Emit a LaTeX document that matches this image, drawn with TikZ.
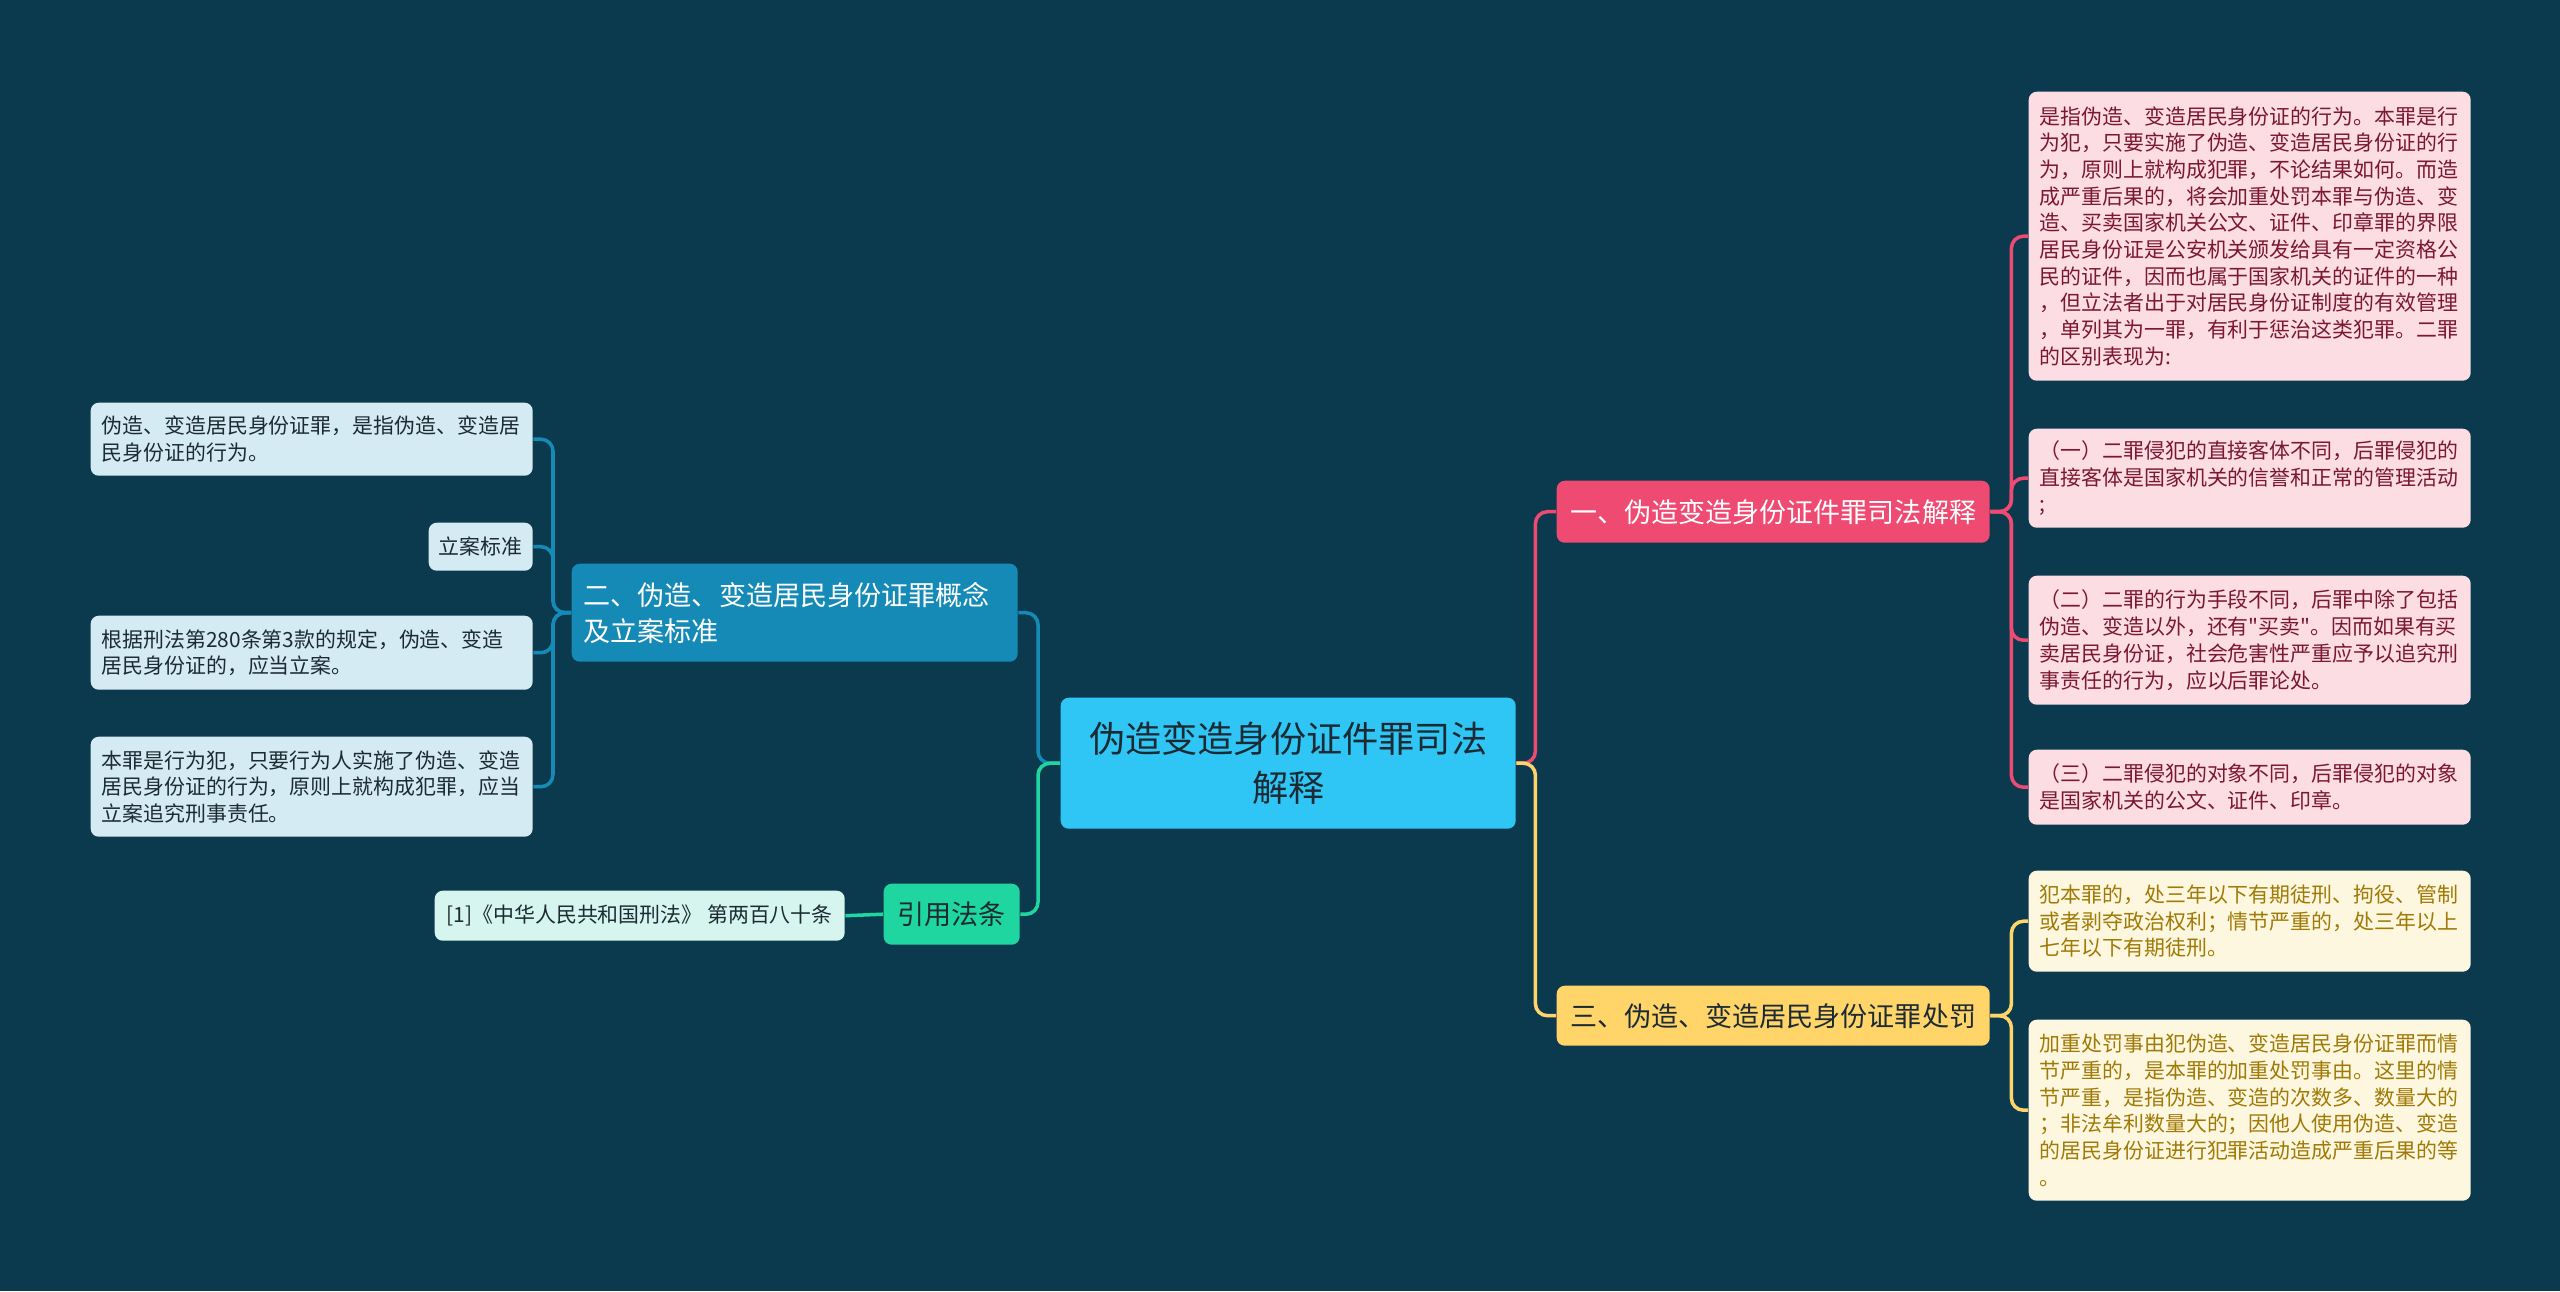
\documentclass[tikz,border=0pt]{standalone}
\usepackage{fontspec}
\setmainfont{Noto Sans CJK SC}
\newfontfamily\plainquote{Noto Sans CJK SC}
\usetikzlibrary{positioning}

\definecolor{bgcol}{HTML}{0B3A4E}
\definecolor{maincol}{HTML}{2FC6F6}
\definecolor{pinkcol}{HTML}{EE4A72}
\definecolor{yellowcol}{HTML}{FFD56A}
\definecolor{bluecol}{HTML}{168AB6}
\definecolor{greencol}{HTML}{1FD6A0}
\definecolor{pinkleaf}{HTML}{FCDDE4}
\definecolor{yellowleaf}{HTML}{FEF7E0}
\definecolor{blueleaf}{HTML}{D5EBF3}
\definecolor{greenleaf}{HTML}{D6F5EE}
\definecolor{pinktext}{HTML}{7B1731}
\definecolor{yellowtext}{HTML}{A07A06}
\definecolor{darktext}{HTML}{1C2B33}

\tikzset{
	box/.style={rectangle, rounded corners=0.8mm, anchor=north west, inner ysep=0.2mm},
	topic/.style={box, inner xsep=1.2mm, font=\fontsize{7.7}{10.2}\selectfont},
	leaf/.style={box, inner xsep=1.1mm, text width=4.2cm, align=left,
		font=\fontsize{5.95}{7.6}\selectfont},
	shortleaf/.style={box, inner xsep=1mm, font=\fontsize{5.95}{7.6}\selectfont},
	conn/.style={line width=1pt, rounded corners=1.2mm},
}

\begin{document}
\begin{tikzpicture}[x=0.1mm, y=-0.1mm]
	\path[use as bounding box, fill=bgcol] (0,0) rectangle (2560,1291);

	\node[box, fill=maincol, text=darktext, align=center,
	minimum width=4.55cm, minimum height=1.31cm,
	font=\fontsize{10.3}{13.9}\selectfont
	] (main) at (1060,697) {伪造变造身份证件罪司法\\解释};

	% right side
	\node[topic, fill=pinkcol, text=white, minimum width=4.33cm, minimum height=0.62cm]
	(s1) at (1556,480) {一、伪造变造身份证件罪司法解释};
	\node[topic, fill=yellowcol, text=darktext, minimum width=4.33cm, minimum height=0.60cm]
	(s3) at (1556,985) {三、伪造、变造居民身份证罪处罚};

	\node[leaf, fill=pinkleaf, text=pinktext, minimum height=2.89cm] (p1) at (2028,91)
	{是指伪造、变造居民身份证的行为。本罪是行\\
	为犯，只要实施了伪造、变造居民身份证的行\\
	为，原则上就构成犯罪，不论结果如何。而造\\
	成严重后果的，将会加重处罚本罪与伪造、变\\
	造、买卖国家机关公文、证件、印章罪的界限\\
	居民身份证是公安机关颁发给具有一定资格公\\
	民的证件，因而也属于国家机关的证件的一种\\
	，但立法者出于对居民身份证制度的有效管理\\
	，单列其为一罪，有利于惩治这类犯罪。二罪\\
	的区别表现为:};
	\node[leaf, fill=pinkleaf, text=pinktext, minimum height=0.99cm] (p2) at (2028,428)
	{（一）二罪侵犯的直接客体不同，后罪侵犯的\\
	直接客体是国家机关的信誉和正常的管理活动\\
	;};
	\node[leaf, fill=pinkleaf, text=pinktext, minimum height=1.29cm] (p3) at (2028,575)
	{（二）二罪的行为手段不同，后罪中除了包括\\
	伪造、变造以外，还有{\plainquote"}买卖{\plainquote"}。因而如果有买\\
	卖居民身份证，社会危害性严重应予以追究刑\\
	事责任的行为，应以后罪论处。};
	\node[leaf, fill=pinkleaf, text=pinktext, minimum height=0.75cm] (p4) at (2028,749)
	{（三）二罪侵犯的对象不同，后罪侵犯的对象\\
	是国家机关的公文、证件、印章。};

	\node[leaf, fill=yellowleaf, text=yellowtext, minimum height=1.01cm] (y1) at (2028,870)
	{犯本罪的，处三年以下有期徒刑、拘役、管制\\
	或者剥夺政治权利；情节严重的，处三年以上\\
	七年以下有期徒刑。};
	\node[leaf, fill=yellowleaf, text=yellowtext, minimum height=1.81cm] (y2) at (2028,1019)
	{加重处罚事由犯伪造、变造居民身份证罪而情\\
	节严重的，是本罪的加重处罚事由。这里的情\\
	节严重，是指伪造、变造的次数多、数量大的\\
	；非法牟利数量大的；因他人使用伪造、变造\\
	的居民身份证进行犯罪活动造成严重后果的等\\
	。};

	% left side
	\node[topic, fill=bluecol, text=white, text width=4.22cm, align=left,
	minimum height=0.98cm] (s2) at (571,563)
	{二、伪造、变造居民身份证罪概念\\及立案标准};
	\node[topic, fill=greencol, text=darktext, minimum width=1.36cm, minimum height=0.61cm]
	(s4) at (883,883) {引用法条};

	\node[leaf, fill=blueleaf, text=darktext, minimum height=0.73cm] (q1) at (90,402)
	{伪造、变造居民身份证罪，是指伪造、变造居\\
	民身份证的行为。};
	\node[shortleaf, fill=blueleaf, text=darktext, minimum width=1.04cm, minimum height=0.48cm]
	(q2) at (428,522) {立案标准};
	\node[leaf, fill=blueleaf, text=darktext, minimum height=0.74cm] (q3) at (90,615)
	{根据刑法第280条第3款的规定，伪造、变造\\
	居民身份证的，应当立案。};
	\node[leaf, fill=blueleaf, text=darktext, minimum height=1.00cm] (q4) at (90,736)
	{本罪是行为犯，只要行为人实施了伪造、变造\\
	居民身份证的行为，原则上就构成犯罪，应当\\
	立案追究刑事责任。};
	\node[shortleaf, fill=greenleaf, text=darktext, minimum width=4.1cm, minimum height=0.50cm]
	(cite) at (434,890) {[1]《中华人民共和国刑法》 第两百八十条};

	\draw[conn, pinkcol] (main.east) -- ++(19,0) |- (s1.west);
	\draw[conn, yellowcol] (main.east) -- ++(19,0) |- (s3.west);
	\foreach \n in {p1,p2,p3,p4}
	\draw[conn, pinkcol] (s1.east) -- ++(21,0) |- (\n.west);
	\foreach \n in {y1,y2}
	\draw[conn, yellowcol] (s3.east) -- ++(21,0) |- (\n.west);

	\draw[conn, bluecol] (main.west) -- ++(-22,0) |- (s2.east);
	\draw[conn, greencol] (main.west) -- ++(-22,0) |- (s4.east);
	\foreach \n in {q1,q2,q3,q4}
	\draw[conn, bluecol] (s2.west) -- ++(-18,0) |- (\n.east);
	\draw[conn, greencol] (s4.west) -- (cite.east);
\end{tikzpicture}
\end{document}
